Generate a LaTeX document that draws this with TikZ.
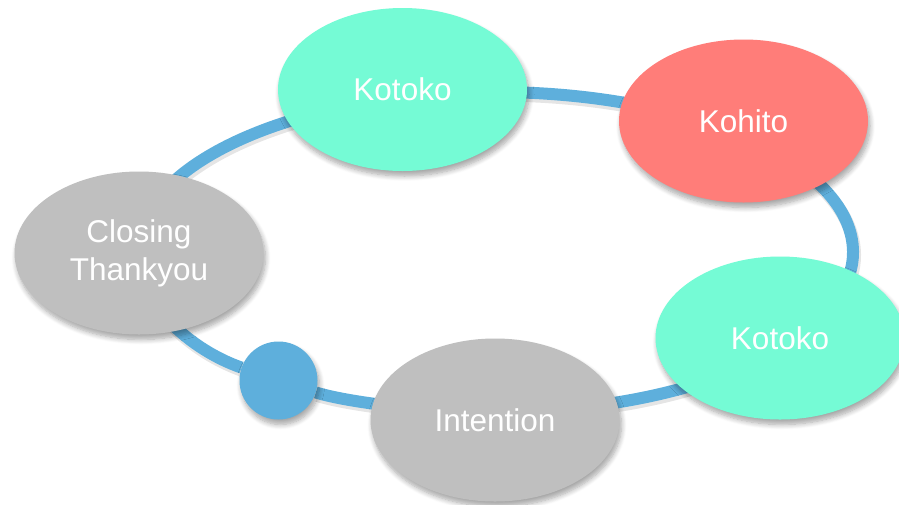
\documentclass[tikz,border=0pt]{standalone}
\usepackage{fontspec}
\setmainfont{Liberation Sans}
\usetikzlibrary{shapes.geometric,backgrounds,shadows.blur}
\definecolor{mint}{HTML}{75FBD5}
\definecolor{salmon}{HTML}{FF7D79}
\definecolor{stone}{HTML}{BFBFBF}
\definecolor{ringblue}{HTML}{5EAFDC}
\tikzset{
  bubble/.style={ellipse, minimum width=249pt, minimum height=163pt, inner sep=0pt,
    text=white, font=\fontsize{31.5}{38}\selectfont, align=center,
    blur shadow={shadow xshift=2pt, shadow yshift=-5pt, shadow opacity=35, shadow blur steps=8, shadow blur radius=5pt}},
  knot/.style={circle, minimum size=78pt, inner sep=0pt, fill=ringblue,
    blur shadow={shadow xshift=2pt, shadow yshift=-5pt, shadow opacity=35, shadow blur steps=8, shadow blur radius=5pt}},
  ring/.style={draw=ringblue, line width=12pt,
    preaction={draw=black, draw opacity=0.10, line width=13pt, transform canvas={shift={(1.5pt,-3pt)}}}},
}
\begin{document}
\begin{tikzpicture}[x=1pt,y=-1pt]
\useasboundingbox (0,0) rectangle (899,504);
\clip (0,0) rectangle (899,504);
\node[bubble, fill=mint]   (kotokoA)   at (402.5,89.5) {Kotoko};
\node[bubble, fill=salmon] (kohito)    at (743.5,121)  {Kohito};
\node[bubble, fill=stone]  (closing)   at (139,253)    {Closing\\Thankyou};
\node[bubble, fill=mint]   (kotokoB)   at (780,338)    {Kotoko};
\node[bubble, fill=stone]  (intention) at (495,420)    {Intention};
\node[knot] (dot) at (278.5,380.5) {};
\coordinate (rClosing)   at (137,252);
\coordinate (rKotokoA)   at (408.4,96.8);
\coordinate (rKohito)    at (725.1,129.4);
\coordinate (rKotokoB)   at (791.8,341.5);
\coordinate (rIntention) at (495,412);
\begin{scope}[on background layer]
\draw[ring] (rClosing) .. controls (137,178.5) and (248.9,114.6) .. (rKotokoA);
\draw[ring] (rKotokoA) .. controls (519.6,84.4) and (637.3,96.5) .. (rKohito);
\draw[ring] (rKohito) .. controls (865.4,182.0) and (894.3,273.6) .. (rKotokoB);
\draw[ring] (rKotokoB) .. controls (725.3,385.6) and (614.0,412) .. (rIntention);
\draw[ring] (rIntention) .. controls (417.2,412) and (341.7,400.7) .. (dot);
\draw[ring] (dot) .. controls (189.8,349.6) and (137,302.2) .. (rClosing);
\end{scope}
\end{tikzpicture}
\end{document}
